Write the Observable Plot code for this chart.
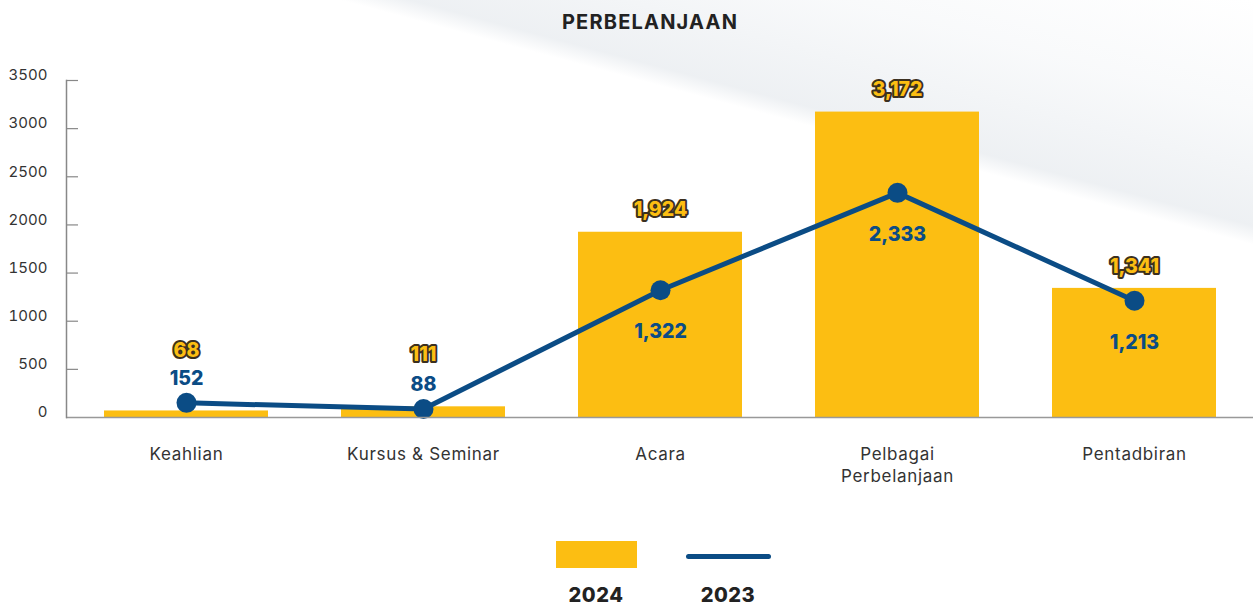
<!DOCTYPE html>
<html>
<head>
<meta charset="utf-8">
<script src="https://cdn.jsdelivr.net/npm/d3@7"></script>
<script src="https://cdn.jsdelivr.net/npm/@observablehq/plot@0.6"></script>
<style>
  html, body { margin: 0; padding: 0; }
  body {
    width: 1253px; height: 605px; overflow: hidden;
    font-family: Inter, "Open Sans", sans-serif;
    background:
      linear-gradient(195deg, rgba(255,255,255,0) 0%, rgba(244,246,248,0.6) 12%, rgba(230,234,238,0.7) 24%, rgba(255,255,255,0) 26%, rgba(255,255,255,0) 100%),
      #ffffff;
  }
  #title {
    height: 45px; line-height: 45px; text-align: center;
    font-weight: 700; font-size: 20px; color: #222; letter-spacing: 1.2px;
    padding-left: 47px;
  }
  #chart svg .xlab text { letter-spacing: 0.7px; }
  #legend { position: relative; width: 1253px; height: 110px; }
  .sw { position: absolute; }
  .lab { position: absolute; font-weight: 800; font-size: 20px; color: #222; text-align: center; width: 120px; letter-spacing: 0.5px; }
</style>
</head>
<body>
<div id="title">PERBELANJAAN</div>
<div id="chart"></div>
<div id="legend">
  <div class="sw" style="left:556px; top:46px; width:81px; height:27px; background:#FCBE12;"></div>
  <div class="sw" style="left:686px; top:59px; width:85px; height:5px; border-radius:3px; background:#0B4C85;"></div>
  <div class="lab" id="l2024" style="left:536px; top:88px;"></div>
  <div class="lab" id="l2023" style="left:668px; top:88px;"></div>
</div>
<script>
const categories = ["Keahlian", "Kursus & Seminar", "Acara", "Pelbagai Perbelanjaan", "Pentadbiran"];
const values2024 = [68, 111, 1924, 3172, 1341];
const values2023 = [152, 88, 1322, 2333, 1213];
const yTicks = [0, 500, 1000, 1500, 2000, 2500, 3000, 3500];
const seriesNames = ["2024", "2023"];

document.getElementById("l2024").textContent = seriesNames[0];
document.getElementById("l2023").textContent = seriesNames[1];

const data = categories.map((c, i) => ({cat: c, v2024: values2024[i], v2023: values2023[i]}));
const fmt = d3.format(",");
const W = 1253, ML = 66, MR = 0;
const yellow = "#FCBE12", blue = "#0B4C85";
const small = d => d.v2023 < 500;

const chart = Plot.plot({
  width: W,
  height: 450,
  marginLeft: ML,
  marginRight: MR,
  marginTop: 35,
  marginBottom: 78,
  style: {background: "transparent", fontFamily: "Inter, 'Open Sans', sans-serif"},
  x: {domain: categories, paddingInner: 0.31, paddingOuter: 0.15, label: null},
  y: {domain: [0, 3500], label: null},
  marks: [
    Plot.ruleY(yTicks.filter(d => d > 0), {stroke: "#888", strokeWidth: 1.2, insetRight: W - ML - MR - 12}),
    Plot.barY(data, {x: "cat", y: "v2024", fill: yellow}),
    Plot.line(data, {x: "cat", y: "v2023", stroke: blue, strokeWidth: 5}),
    Plot.dot(data, {x: "cat", y: "v2023", r: 10, fill: blue}),
    // 2024 labels: above the bar, or above the 2023 label when that one sits above the point
    Plot.text(data, {filter: d => !small(d), x: "cat", y: "v2024", text: d => fmt(d.v2024), dy: -22,
      fill: yellow, stroke: "#3b3020", strokeWidth: 4, fontWeight: 800, fontSize: 19.5}),
    Plot.text(data, {filter: small, x: "cat", y: d => Math.max(d.v2024, d.v2023), text: d => fmt(d.v2024), dy: -52,
      fill: yellow, stroke: "#3b3020", strokeWidth: 4, fontWeight: 800, fontSize: 19.5}),
    // 2023 labels
    Plot.text(data, {filter: small, x: "cat", y: "v2023", text: d => fmt(d.v2023), dy: -24,
      fill: blue, fontWeight: 800, fontSize: 19.5}),
    Plot.text(data, {filter: d => !small(d), x: "cat", y: "v2023", text: d => fmt(d.v2023), dy: 42,
      fill: blue, fontWeight: 800, fontSize: 19.5}),
    Plot.ruleY([0], {stroke: "#999", strokeWidth: 1.5}),
    Plot.frame({anchor: "left", stroke: "#888", strokeWidth: 1.5}),
    Plot.axisY({ticks: yTicks, tickFormat: d => String(d), tickSize: 0, tickPadding: 19, dy: -5, fontSize: 15, fill: "#333", label: null}),
    Plot.axisX({className: "xlab", tickSize: 0, tickPadding: 27, fontSize: 17, fill: "#333", lineAnchor: "top", lineHeight: 1.3,
      tickFormat: d => d === "Pelbagai Perbelanjaan" ? "Pelbagai\nPerbelanjaan" : d, label: null})
  ]
});
document.getElementById("chart").appendChild(chart);
</script>
</body>
</html>
